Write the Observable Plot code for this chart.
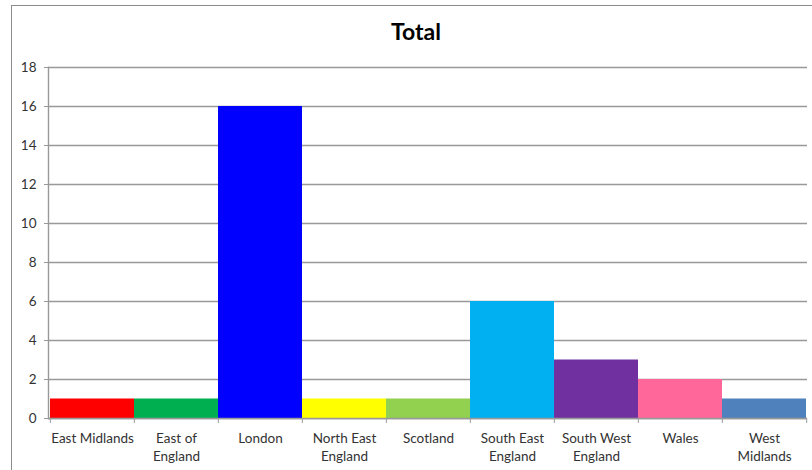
<!DOCTYPE html>
<html>
<head>
<meta charset="utf-8">
<script src="https://cdn.jsdelivr.net/npm/d3@7"></script>
<script src="https://cdn.jsdelivr.net/npm/@observablehq/plot@0.6"></script>
<style>
  html, body { margin: 0; padding: 0; background: #fff; }
  #wrap { position: relative; width: 812px; height: 470px; overflow: hidden; font-family: Lato, "Open Sans", sans-serif; }
  #frame { position: absolute; left: 11px; top: 5px; width: 830px; height: 490px; border: 1.5px solid #8c8c8c; box-sizing: border-box; }
  #title { position: absolute; top: 17px; left: 0; width: 832px; text-align: center; font-weight: bold; font-size: 23px; color: #000; }
  #chart { position: absolute; left: 0; top: 0; }
</style>
</head>
<body>
<div id="wrap">
  <div id="frame"></div>
  <div id="chart"></div>
  <div id="title">Total</div>
</div>
<script>
const regions = ["East Midlands", "East of England", "London", "North East England", "Scotland", "South East England", "South West England", "Wales", "West Midlands"];
const totals = [1, 1, 16, 1, 1, 6, 3, 2, 1];
const tickLabels = ["East Midlands", "East of\nEngland", "London", "North East\nEngland", "Scotland", "South East\nEngland", "South West\nEngland", "Wales", "West\nMidlands"];
const yTicks = [0, 2, 4, 6, 8, 10, 12, 14, 16, 18];
const palette = ["#ff0000", "#00b050", "#0000ff", "#ffff00", "#92d050", "#00b0f0", "#7030a0", "#ff6699", "#4f81bd"];

const data = regions.map((r, i) => ({region: r, total: totals[i]}));
const W = 812, H = 470, mL = 48, mR = 5, mT = 67, mB = 52;
const bw = (W - mL - mR) / regions.length;
const labelOf = new Map(regions.map((r, i) => [r, tickLabels[i]]));

const chart = Plot.plot({
  width: W,
  height: H,
  marginLeft: mL,
  marginRight: mR,
  marginTop: mT,
  marginBottom: mB,
  style: {fontFamily: "Lato, 'Open Sans', sans-serif", fontSize: "13.5px", color: "#333", background: "transparent"},
  x: {type: "band", domain: regions, padding: 0},
  y: {domain: [0, 18]},
  color: {domain: regions, range: palette},
  marks: [
    Plot.ruleY(yTicks, {stroke: "#999", strokeWidth: 1.4}),
    Plot.barY(data, {x: "region", y: "total", fill: "region"}),
    Plot.ruleY([0], {stroke: "#999", strokeWidth: 1.4}),
    Plot.frame({anchor: "left", stroke: "#999", strokeWidth: 1.4}),
    Plot.axisY({ticks: yTicks, tickSize: 4, tickPadding: 8, stroke: "#999", label: null, fill: "#333"}),
    Plot.axisX({tickSize: 5, tickFormat: () => "", dx: -bw / 2, stroke: "#999", label: null}),
    Plot.axisX({ticks: [regions[regions.length - 1]], tickSize: 5, tickFormat: () => "", dx: bw / 2, stroke: "#999", label: null}),
    Plot.axisX({tickSize: 0, tickPadding: 12, tickFormat: d => labelOf.get(d), lineHeight: 1.3, label: null, fill: "#333"})
  ]
});
document.getElementById("chart").appendChild(chart);
</script>
</body>
</html>
